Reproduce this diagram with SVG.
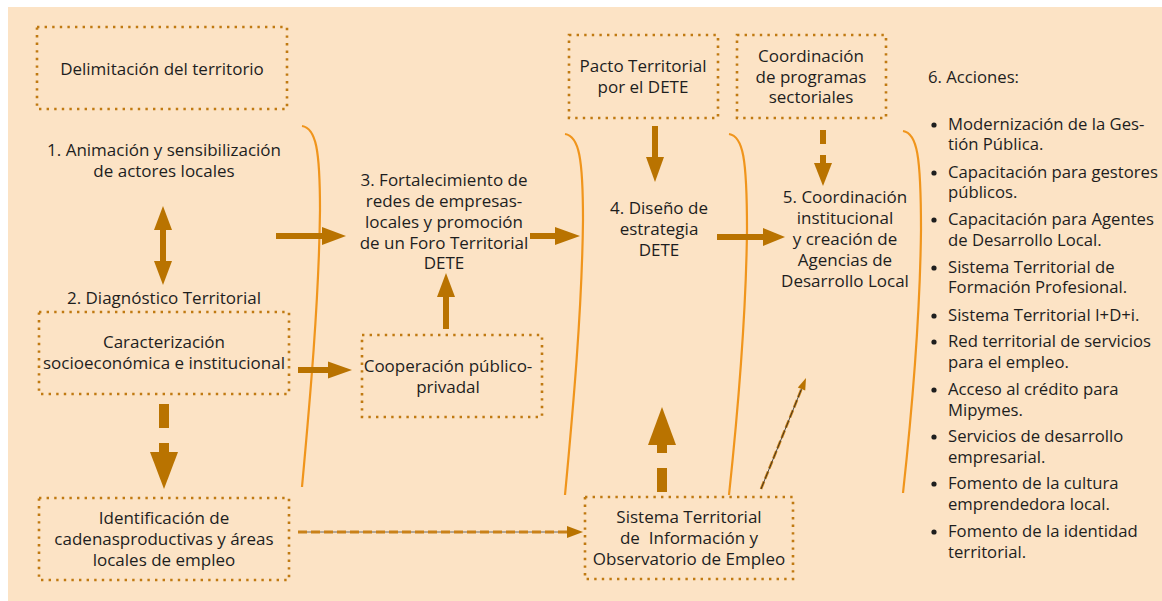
<svg xmlns="http://www.w3.org/2000/svg" width="1162" height="601" viewBox="0 0 1162 601">
<style>
.bg{fill:#FCE3C5}
.box{fill:none;stroke:#C07A12;stroke-width:2.6;stroke-dasharray:2.4 5.2}
.t{font-family:"Open Sans","Liberation Sans",Arial,sans-serif;font-size:17px;fill:#1e1e1e;text-anchor:middle}
.l{font-family:"Open Sans","Liberation Sans",Arial,sans-serif;font-size:16.7px;fill:#1e1e1e}
.arr{fill:#B97300}
.br{fill:none;stroke:#F0951C;stroke-width:2.2}
</style>
<rect x="0" y="0" width="1162" height="601" fill="#ffffff"/>
<rect class="bg" x="8" y="7" width="1154" height="594"/>

<g id="brackets">
<path class="br" d="M302,126 C316,128 320,150 320,210 C319,300 310,400 302,487"/>
<path class="br" d="M565,134 C579,136 583,158 583,220 C582,310 573,410 565,495"/>
<path class="br" d="M729,134 C743,136 747,158 747,230 C746,320 737,420 729,495"/>
<path class="br" d="M903,131 C917,133 921,155 921,230 C920,320 911,420 903,493"/>
</g>

<g id="connectors">
<path class="arr" d="M163,206 L172,230 L166,230 L166,261 L172,261 L163,285 L154,261 L160,261 L160,230 L154,230 Z"/>
<rect class="arr" x="159" y="404" width="10" height="24"/>
<rect class="arr" x="159" y="443" width="10" height="10"/>
<polygon class="arr" points="150,452 178,452 164,489"/>
<rect class="arr" x="276" y="233" width="48" height="6"/>
<polygon class="arr" points="322,227 346,236 322,245"/>
<rect class="arr" x="530" y="233" width="27" height="6"/>
<polygon class="arr" points="555,227 580,236 555,245"/>
<rect class="arr" x="717" y="234" width="48" height="6"/>
<polygon class="arr" points="763,228 785,237 763,246"/>
<rect class="arr" x="298" y="367" width="32" height="6"/>
<polygon class="arr" points="328,361.5 352,370 328,378.5"/>
<rect class="arr" x="443" y="296" width="6" height="33"/>
<polygon class="arr" points="437,297 455,297 446,273"/>
<rect class="arr" x="652" y="126" width="6" height="32"/>
<polygon class="arr" points="646,157 664,157 655,182"/>
<rect class="arr" x="820" y="130" width="6" height="14"/>
<rect class="arr" x="820" y="155" width="6" height="9"/>
<polygon class="arr" points="814,163 832,163 823,186"/>
<rect class="arr" x="657" y="468" width="10" height="24"/>
<rect class="arr" x="657" y="444" width="10" height="9"/>
<polygon class="arr" points="648,445 676,445 662,407"/>
<line x1="298" y1="532" x2="568" y2="532" stroke="#6b6b6b" stroke-width="1"/>
<line x1="298" y1="532" x2="568" y2="532" stroke="#C98118" stroke-width="3" stroke-dasharray="9 4"/>
<polygon class="arr" points="567,526 583,532 567,538"/>
<line x1="761" y1="489" x2="801.5" y2="389" stroke="#C98118" stroke-width="2.6" stroke-dasharray="8 3"/>
<line x1="761" y1="489" x2="801.5" y2="389" stroke="#222" stroke-width="0.8"/>
<polygon class="arr" points="805.2,390.6 797.8,387.6 806,378"/>
</g>

<g id="n-delimitacion">
<rect class="box" x="37" y="27" width="250" height="82"/>
<text class="t" x="162" y="75">Delimitación del territorio</text>
</g>
<g id="n-animacion">
<text class="t" x="164" y="156">1. Animación y sensibilización</text>
<text class="t" x="164" y="177">de actores locales</text>
</g>
<g id="n-diagnostico">
<text class="t" x="164" y="304">2. Diagnóstico Territorial</text>
</g>
<g id="n-caracterizacion">
<rect class="box" x="39" y="312" width="250" height="82"/>
<text class="t" x="164" y="348">Caracterización</text>
<text class="t" x="164" y="369">socioeconómica e institucional</text>
</g>
<g id="n-identificacion">
<rect class="box" x="39" y="498" width="250" height="82"/>
<text class="t" x="164" y="524">Identificación de</text>
<text class="t" x="164" y="545">cadenasproductivas y áreas</text>
<text class="t" x="164" y="566">locales de empleo</text>
</g>
<g id="n-fortalecimiento">
<text class="t" x="444" y="186">3. Fortalecimiento de</text>
<text class="t" x="444" y="207">redes de empresas-</text>
<text class="t" x="444" y="228">locales y promoción</text>
<text class="t" x="444" y="249">de un Foro Territorial</text>
<text class="t" x="444" y="269">DETE</text>
</g>
<g id="n-cooperacion">
<rect class="box" x="362" y="335" width="180" height="82"/>
<text class="t" x="448" y="372">Cooperación público-</text>
<text class="t" x="448" y="393">privadal</text>
</g>
<g id="n-pacto">
<rect class="box" x="569" y="35" width="149" height="83"/>
<text class="t" x="643" y="72">Pacto Territorial</text>
<text class="t" x="643" y="93">por el DETE</text>
</g>
<g id="n-coordprog">
<rect class="box" x="737" y="35" width="149" height="83"/>
<text class="t" x="811" y="62">Coordinación</text>
<text class="t" x="811" y="83">de programas</text>
<text class="t" x="811" y="103">sectoriales</text>
</g>
<g id="n-diseno">
<text class="t" x="659" y="214">4. Diseño de</text>
<text class="t" x="659" y="235">estrategia</text>
<text class="t" x="659" y="256">DETE</text>
</g>
<g id="n-coordinst">
<text class="t" x="845" y="203">5. Coordinación</text>
<text class="t" x="845" y="224">institucional</text>
<text class="t" x="845" y="245">y creación de</text>
<text class="t" x="845" y="266">Agencias de</text>
<text class="t" x="845" y="287">Desarrollo Local</text>
</g>
<g id="n-sistema">
<rect class="box" x="585" y="497" width="208" height="82"/>
<text class="t" x="689" y="523">Sistema Territorial</text>
<text class="t" x="689" y="544" xml:space="preserve">de  Información y</text>
<text class="t" x="689" y="565">Observatorio de Empleo</text>
</g>
<g id="n-acciones">
<text class="l" x="928" y="83">6. Acciones:</text>
<g fill="#1e1e1e">
<circle cx="934" cy="125" r="2.6"/>
<circle cx="934" cy="173" r="2.6"/>
<circle cx="934" cy="220" r="2.6"/>
<circle cx="934" cy="268" r="2.6"/>
<circle cx="934" cy="316" r="2.6"/>
<circle cx="934" cy="342" r="2.6"/>
<circle cx="934" cy="390" r="2.6"/>
<circle cx="934" cy="437" r="2.6"/>
<circle cx="934" cy="484" r="2.6"/>
<circle cx="934" cy="532" r="2.6"/>
</g>
<text class="l" x="948" y="130">Modernización de la Ges-</text>
<text class="l" x="948" y="150">tión Pública.</text>
<text class="l" x="948" y="178">Capacitación para gestores</text>
<text class="l" x="948" y="198">públicos.</text>
<text class="l" x="948" y="225">Capacitación para Agentes</text>
<text class="l" x="948" y="246">de Desarrollo Local.</text>
<text class="l" x="948" y="273">Sistema Territorial de</text>
<text class="l" x="948" y="293">Formación Profesional.</text>
<text class="l" x="948" y="321">Sistema Territorial I+D+i.</text>
<text class="l" x="948" y="347">Red territorial de servicios</text>
<text class="l" x="948" y="368">para el empleo.</text>
<text class="l" x="948" y="395">Acceso al crédito para</text>
<text class="l" x="948" y="416">Mipymes.</text>
<text class="l" x="948" y="442">Servicios de desarrollo</text>
<text class="l" x="948" y="463">empresarial.</text>
<text class="l" x="948" y="489">Fomento de la cultura</text>
<text class="l" x="948" y="510">emprendedora local.</text>
<text class="l" x="948" y="537">Fomento de la identidad</text>
<text class="l" x="948" y="558">territorial.</text>
</g>
</svg>
